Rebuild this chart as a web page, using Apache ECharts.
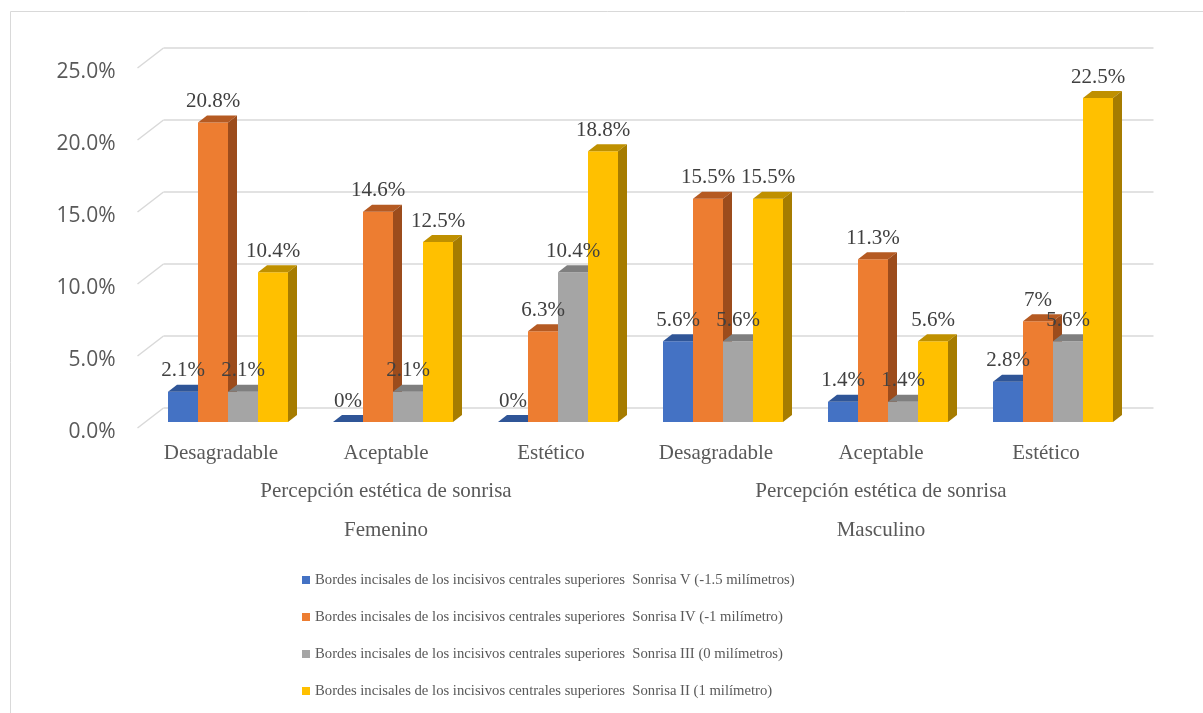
<!DOCTYPE html>
<html><head><meta charset="utf-8">
<script src="https://cdn.jsdelivr.net/npm/echarts@6/dist/echarts.min.js"></script>
<style>html,body{margin:0;padding:0;background:#fff}#c{width:1203px;height:713px}</style>
</head><body><div id="c"></div>
<script>
const categories = ['Desagradable','Aceptable','Estético','Desagradable','Aceptable','Estético'];
const groupLabels = ['Percepción estética de sonrisa','Percepción estética de sonrisa'];
const sexLabels = ['Femenino','Masculino'];
const seriesNames = [
  'Bordes incisales de los incisivos centrales superiores  Sonrisa V (-1.5 milímetros)',
  'Bordes incisales de los incisivos centrales superiores  Sonrisa IV (-1 milímetro)',
  'Bordes incisales de los incisivos centrales superiores  Sonrisa III (0 milímetros)',
  'Bordes incisales de los incisivos centrales superiores  Sonrisa II (1 milímetro)'
];
const sonrisaV   = [2.1, 0, 0, 5.6, 1.4, 2.8];
const sonrisaIV  = [20.8, 14.6, 6.3, 15.5, 11.3, 7];
const sonrisaIII = [2.1, 2.1, 10.4, 5.6, 1.4, 5.6];
const sonrisaII  = [10.4, 12.5, 18.8, 15.5, 5.6, 22.5];
const yTicks = [0, 5, 10, 15, 20, 25];

const faces = [
  {front:'#4472C4', top:'#2F5597', side:'#2B4F8C'},
  {front:'#ED7D31', top:'#B55A22', side:'#9C4C1C'},
  {front:'#A5A5A5', top:'#7F7F7F', side:'#787878'},
  {front:'#FFC000', top:'#BF9000', side:'#A67C00'}
];
const allValues = [sonrisaV, sonrisaIV, sonrisaIII, sonrisaII];

function makeBarRender(si){
  const face = faces[si];
  return function(params, api){
    const ci = api.value(0), v = api.value(1);
    const b = api.coord([ci, 0]), t = api.coord([ci, v]);
    const w = 30, dx = 9, dy = 7;
    const x0 = b[0] + 7 - 60 + si * w;
    const yb = b[1] - 6, yt = t[1] - 6;
    const children = [];
    if (yb - yt > 0.5) children.push({type:'rect', shape:{x:x0, y:yt, width:w, height:yb-yt}, style:{fill:face.front}});
    children.push({type:'polygon', shape:{points:[[x0,yt],[x0+w,yt],[x0+w+dx,yt-dy],[x0+dx,yt-dy]]}, style:{fill:face.top}});
    children.push({type:'polygon', shape:{points:[[x0+w,yt],[x0+w+dx,yt-dy],[x0+w+dx,yb-dy],[x0+w,yb]]}, style:{fill:face.side}});
    children.push({type:'text', z2:100, style:{text: v + '%', x:x0 + w/2, y:yt - 21, align:'center', verticalAlign:'middle', fill:'#404040', fontSize:21, fontFamily:'Liberation Serif'}});
    return {type:'group', children};
  };
}

const chart = echarts.init(document.getElementById('c'));
const series = [{
  type:'custom', silent:true, z:1, xAxisIndex:0, yAxisIndex:0,
  data: yTicks.map(v => [0, v]), encode:{x:0, y:1},
  renderItem(params, api){
    const cs = params.coordSys;
    const y = api.coord([0, api.value(1)])[1];
    return {type:'group', children:[
      {type:'line', shape:{x1:cs.x - 1, y1:y, x2:cs.x + 25, y2:y - 20}, style:{stroke:'#D9D9D9', lineWidth:1.5}},
      {type:'line', shape:{x1:cs.x + 25, y1:y - 20, x2:cs.x + cs.width + 25, y2:y - 20}, style:{stroke:'#D9D9D9', lineWidth:1.5}}
    ]};
  }
}];
allValues.forEach((vals, si) => {
  series.push({
    type:'custom', name: seriesNames[si], z:2, xAxisIndex:0, yAxisIndex:0,
    itemStyle:{color: faces[si].front},
    data: vals.map((v, i) => [i, v]), encode:{x:0, y:1},
    renderItem: makeBarRender(si)
  });
});

const serifText = {fontFamily:'Liberation Serif', fontSize:21, color:'#595959'};
chart.setOption({
  animation:false,
  color: faces.map(f => f.front),
  grid:{left:138.5, right:74.5, top:68, bottom:285, outerBoundsMode:'none', containLabel:false},
  xAxis:[
    {type:'category', data:categories, position:'bottom', axisLine:{show:false}, axisTick:{show:false}, splitLine:{show:false},
     axisLabel:Object.assign({interval:0, margin:15}, serifText)},
    {type:'category', data:groupLabels, position:'bottom', offset:0, axisLine:{show:false}, axisTick:{show:false}, splitLine:{show:false},
     axisLabel:Object.assign({interval:0, margin:53}, serifText)},
    {type:'category', data:sexLabels, position:'bottom', offset:0, axisLine:{show:false}, axisTick:{show:false}, splitLine:{show:false},
     axisLabel:Object.assign({interval:0, margin:92}, serifText)}
  ],
  yAxis:{type:'value', min:0, max:25, interval:5, splitLine:{show:false}, axisLine:{show:false}, axisTick:{show:false},
    axisLabel:{formatter: v => v.toFixed(1) + '%', margin:23, verticalAlign:'top', lineHeight:8, fontFamily:'Open Sans', fontSize:21, color:'#595959'}},
  legend:{orient:'vertical', left:297, top:565, itemWidth:8, itemHeight:8, itemGap:17, icon:'rect', selectedMode:false,
    data: seriesNames.map((n, i) => ({name:n, icon:'rect', itemStyle:{color:faces[i].front}})),
    textStyle:{fontFamily:'Liberation Serif', fontSize:14.7, lineHeight:20, color:'#595959'}},
  graphic:[{type:'rect', silent:true, shape:{x:10.5, y:11.5, width:1200, height:720}, style:{fill:'none', stroke:'#D9D9D9', lineWidth:1}}],
  series
});
</script></body></html>
